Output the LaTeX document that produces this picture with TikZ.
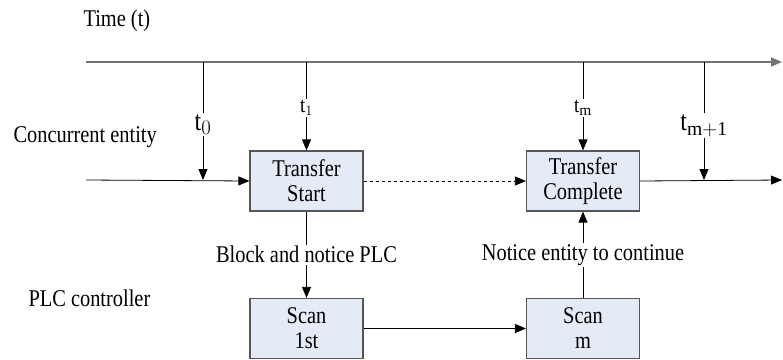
\documentclass[tikz,border=0pt]{standalone}
\usepackage{fontspec}
\setmainfont{Liberation Serif}
\newfontfamily\tnr[FakeStretch=0.85]{Liberation Serif}
\usetikzlibrary{arrows.meta}
\definecolor{boxfill}{RGB}{228,235,246}
\definecolor{boxline}{RGB}{85,85,85}
\begin{document}
\begin{tikzpicture}[x=1pt,y=-1pt,
  every node/.style={font=\tnr\fontsize{24}{26}\selectfont},
  box/.style={draw=boxline, fill=boxfill, line width=1.2pt, minimum width=113pt, minimum height=60pt, inner sep=0pt, align=center, font=\tnr\fontsize{24}{25}\selectfont},
  tip/.style={-{Triangle[length=11pt,width=9pt]}},
  conn/.style={tip, line width=0.8pt},
  gap/.style={fill=white, inner sep=1.5pt},
  big/.style={font=\tnr\fontsize{28}{28}\selectfont},
  small/.style={font=\tnr\fontsize{22}{22}\selectfont}]
\useasboundingbox (0,0) rectangle (783,359);

% labels
\node[anchor=west] (time) at (80,21) {Time (t)};
\node[anchor=west] (ce) at (10,137) {Concurrent entity};
\node[anchor=west] (plc) at (25,298) {PLC controller};

% boxes
\node[box] (ts) at (306.5,181) {Transfer\\Start};
\node[box] (tc) at (583,181) {Transfer\\Complete};
\node[box] (s1) at (306.5,328.5) {Scan\\1st};
\node[box] (sm) at (583,328.5) {Scan\\m};

% time line
\coordinate (tl0) at (86,62);
\coordinate (tl1) at (782,62);
\draw[tip, draw=black!55, fill=black, line width=1.6pt] (tl0) -- (tl1);

% entity line
\coordinate (el0) at (86,180);
\coordinate (el1) at (782,180);
\coordinate (a0) at (203,62);
\coordinate (b0) at (203,180);
\coordinate (a1) at (306.5,62);
\coordinate (am) at (583,62);
\coordinate (an) at (704,62);
\coordinate (bn) at (704,180);

\draw[conn] (el0) -- (ts.west);
\draw[conn, dashed] (ts.east) -- (tc.west);
\draw[conn] (tc.east) -- (el1);

\draw[conn] (a0) -- node[pos=0.53, gap, big] (l0) {t$_0$} (b0);
\draw[conn] (a1) -- node[pos=0.52, gap, small] (l1) {t$_1$} (ts.north);
\draw[conn] (am) -- node[pos=0.52, gap, small] (lm) {t$_\mathrm{m}$} (tc.north);
\draw[conn] (an) -- node[pos=0.54, gap, big] (ln) {t$_\mathrm{m+1}$} (bn);

\draw[conn] (ts.south) -- node[pos=0.5, gap] (bl) {Block and notice PLC} (s1.north);
\draw[conn] (sm.north) -- node[pos=0.5, gap] (nc) {Notice entity to continue} (tc.south);
\draw[conn] (s1.east) -- (sm.west);
\end{tikzpicture}
\end{document}
